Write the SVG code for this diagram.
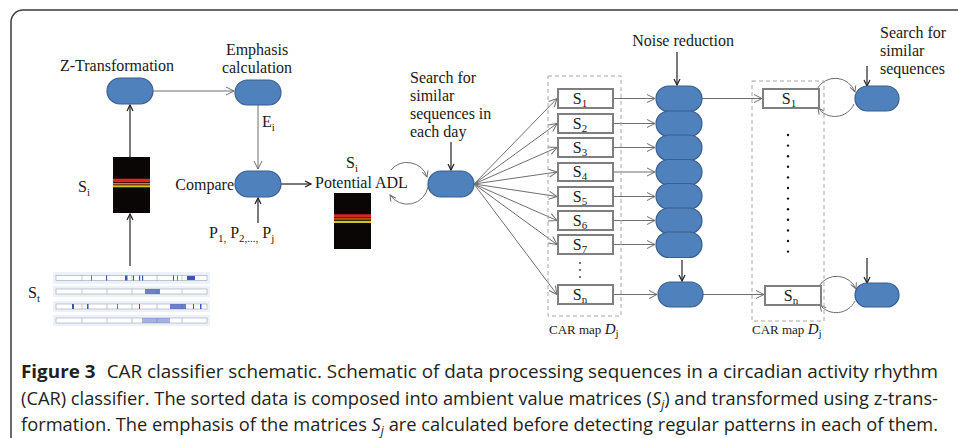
<svg xmlns="http://www.w3.org/2000/svg" width="958" height="438" viewBox="0 0 958 438">
<defs>
<style>
.t{font-family:"Liberation Serif","Times New Roman",serif;font-size:16px;fill:#1a1a1a}
.sub{font-size:11px}
.pill{fill:#4F81BD;stroke:#3A5F8F;stroke-width:1.2}
.box{fill:#fff;stroke:#7f7f7f;stroke-width:2}
.g{stroke:#6f6f6f;stroke-width:1;fill:none;marker-end:url(#ag)}
.k{stroke:#222;stroke-width:1.2;fill:none;marker-end:url(#ak)}
.lp{stroke:#6f6f6f;stroke-width:1;fill:none;marker-end:url(#al)}
.dash{fill:none;stroke:#a6a6a6;stroke-width:1;stroke-dasharray:4 3}
.cap{font-family:"Open Sans","Liberation Sans",sans-serif;font-size:18px;fill:#231f20}
.panel{fill:#edf1f9}
.bar{fill:#fff;stroke:#9aa3b5;stroke-width:0.6}
.tick{stroke:#9aa3b5;stroke-width:0.6}
.bl{fill:#3d55b8}
</style>
<marker id="ag" markerUnits="userSpaceOnUse" markerWidth="10" markerHeight="10" refX="9" refY="5" orient="auto"><path d="M1,1 L9,5 L1,9" fill="none" stroke="#6f6f6f" stroke-width="1"/></marker>
<marker id="ak" markerUnits="userSpaceOnUse" markerWidth="10" markerHeight="10" refX="9" refY="5" orient="auto"><path d="M3,2 L9,5 L3,8" fill="none" stroke="#222" stroke-width="1.2"/></marker>
<marker id="al" markerUnits="userSpaceOnUse" markerWidth="8" markerHeight="8" refX="7" refY="4" orient="auto"><path d="M1,1 L7,4 L1,7" fill="none" stroke="#6f6f6f" stroke-width="1"/></marker>
</defs>
<rect x="11" y="10" width="960" height="440" rx="12" fill="#fff" stroke="#3a3a3a" stroke-width="1.5"/>

<g id="connectors">
<line class="g" x1="153" y1="91" x2="234" y2="91"/>
<line class="g" x1="258" y1="105" x2="258" y2="169"/>
<line class="k" x1="130" y1="157" x2="130" y2="105"/>
<line class="k" x1="130" y1="266" x2="130" y2="214"/>
<line class="k" x1="281" y1="184" x2="311" y2="184"/>
<line class="k" x1="258" y1="223" x2="258" y2="198"/>
<line class="k" x1="451" y1="142" x2="451" y2="170"/>
<path class="lp" d="M391,170 A21 21 0 0 1 427,177"/>
<path class="lp" d="M428,187 A21 21 0 0 1 390,195"/>
<line class="g" x1="474" y1="184" x2="557" y2="98.5"/>
<line class="g" x1="474" y1="184" x2="557" y2="123.5"/>
<line class="g" x1="474" y1="184" x2="557" y2="147.5"/>
<line class="g" x1="474" y1="184" x2="557" y2="172"/>
<line class="g" x1="474" y1="184" x2="557" y2="196.5"/>
<line class="g" x1="474" y1="184" x2="557" y2="220.5"/>
<line class="g" x1="474" y1="184" x2="557" y2="244.5"/>
<line class="g" x1="474" y1="184" x2="557" y2="294.5"/>
<line class="g" x1="613" y1="98.5" x2="655" y2="98.5"/>
<line class="g" x1="613" y1="123.5" x2="655" y2="123.5"/>
<line class="g" x1="613" y1="147.5" x2="655" y2="147.5"/>
<line class="g" x1="613" y1="172" x2="655" y2="172"/>
<line class="g" x1="613" y1="196.5" x2="655" y2="196.5"/>
<line class="g" x1="613" y1="220.5" x2="655" y2="220.5"/>
<line class="g" x1="613" y1="244.5" x2="655" y2="244.5"/>
<line class="g" x1="613" y1="294.5" x2="657" y2="294.5"/>
<line class="k" x1="677" y1="52" x2="677" y2="85"/>
<line class="k" x1="682" y1="260" x2="682" y2="281"/>
<line class="g" x1="702" y1="98.5" x2="762" y2="98.5"/>
<line class="g" x1="703" y1="294.5" x2="764" y2="294.5"/>
<path class="lp" d="M817,89 A21 21 0 0 1 855,92"/>
<path class="lp" d="M854,104 A21 21 0 0 1 818,108"/>
<path class="lp" d="M819,286 A21 21 0 0 1 856,289"/>
<path class="lp" d="M855,301 A21 21 0 0 1 820,305"/>
<line class="k" x1="867" y1="66" x2="867" y2="86"/>
<line class="k" x1="867" y1="258" x2="867" y2="283"/>
</g>

<g id="z-transformation">
<rect class="pill" x="107" y="78" width="46" height="26" rx="13"/>
<text class="t" x="117" y="71" text-anchor="middle">Z-Transformation</text>
</g>
<g id="emphasis">
<rect class="pill" x="235" y="80" width="46" height="25" rx="12.5"/>
<text class="t" x="257" y="55" text-anchor="middle">Emphasis</text>
<text class="t" x="257" y="73" text-anchor="middle">calculation</text>
<text class="t" x="262" y="127">E<tspan class="sub" dy="4">i</tspan></text>
</g>
<g id="compare">
<rect class="pill" x="235" y="171" width="46" height="26" rx="13"/>
<text class="t" x="234" y="190" text-anchor="end">Compare</text>
<text class="t" x="209" y="238">P<tspan class="sub" dy="4">1,</tspan><tspan dy="-4"> P</tspan><tspan class="sub" dy="4">2,...,</tspan><tspan dy="-4"> P</tspan><tspan class="sub" dy="4">j</tspan></text>
</g>
<g id="si-matrix">
<rect x="113" y="157" width="37" height="56" fill="#0b0606"/>
<rect x="113" y="178.7" width="37" height="3.6" fill="#d8291f"/>
<rect x="113" y="183" width="37" height="1.5" fill="#e8761c"/>
<rect x="113" y="185.3" width="37" height="2" fill="#cfc52a"/>
<text class="t" x="78" y="192">S<tspan class="sub" dy="4">i</tspan></text>
</g>
<g id="st-data">
<text class="t" x="28" y="298">S<tspan class="sub" dy="4">t</tspan></text>
<rect class="panel" x="53" y="272" width="157" height="12"/>
<rect class="bar" x="56" y="275.5" width="151" height="5"/>
<rect class="panel" x="53" y="286" width="157" height="11"/>
<rect class="bar" x="56" y="289" width="151" height="5"/>
<rect class="panel" x="53" y="301" width="157" height="11"/>
<rect class="bar" x="56" y="304" width="151" height="5"/>
<rect class="panel" x="53" y="315" width="157" height="11"/>
<rect class="bar" x="56" y="318" width="151" height="5"/>
<g class="tick">
<line x1="82" y1="275" x2="82" y2="281"/><line x1="107" y1="275" x2="107" y2="281"/><line x1="132" y1="275" x2="132" y2="281"/><line x1="157" y1="275" x2="157" y2="281"/><line x1="182" y1="275" x2="182" y2="281"/>
<line x1="82" y1="289" x2="82" y2="294"/><line x1="107" y1="289" x2="107" y2="294"/><line x1="132" y1="289" x2="132" y2="294"/><line x1="157" y1="289" x2="157" y2="294"/><line x1="182" y1="289" x2="182" y2="294"/>
<line x1="82" y1="304" x2="82" y2="309"/><line x1="107" y1="304" x2="107" y2="309"/><line x1="132" y1="304" x2="132" y2="309"/><line x1="157" y1="304" x2="157" y2="309"/><line x1="182" y1="304" x2="182" y2="309"/>
<line x1="82" y1="318" x2="82" y2="323"/><line x1="107" y1="318" x2="107" y2="323"/><line x1="132" y1="318" x2="132" y2="323"/><line x1="157" y1="318" x2="157" y2="323"/><line x1="182" y1="318" x2="182" y2="323"/>
</g>
<g class="bl">
<rect x="91" y="275.5" width="0.8" height="5"/><rect x="106" y="275.5" width="1" height="5"/><rect x="125" y="275.5" width="2.5" height="5"/><rect x="133" y="275.5" width="1" height="5"/><rect x="139" y="275.5" width="1.2" height="5"/><rect x="142" y="275.5" width="1.2" height="5"/><rect x="173" y="275.5" width="1" height="5"/><rect x="177" y="275.5" width="0.8" height="5"/><rect x="187" y="276" width="8" height="4"/>
<rect x="145" y="289" width="15" height="5" opacity="0.75"/>
<rect x="72" y="304" width="2" height="5"/><rect x="87" y="304" width="1.5" height="5"/><rect x="117" y="304" width="0.8" height="5"/><rect x="139" y="304" width="1" height="5"/><rect x="170" y="304" width="16" height="5" opacity="0.75"/><rect x="193" y="304" width="1" height="5"/><rect x="200" y="304" width="1.5" height="5"/>
<rect x="142" y="318" width="28" height="5" opacity="0.45"/>
</g>
</g>
<g id="potential-adl">
<text class="t" x="352" y="168" text-anchor="middle">S<tspan class="sub" dy="4">i</tspan></text>
<text class="t" x="315" y="188">Potential ADL</text>
<rect x="334" y="193" width="37" height="56" fill="#0b0606"/>
<rect x="334" y="214.3" width="37" height="3.2" fill="#d8291f"/>
<rect x="334" y="218.3" width="37" height="1.3" fill="#e8761c"/>
<rect x="334" y="220.8" width="37" height="2.2" fill="#cfc52a"/>
</g>
<g id="search-daily">
<rect class="pill" x="428" y="171" width="46" height="26" rx="13"/>
<text class="t" x="410" y="83">Search for</text>
<text class="t" x="410" y="101">similar</text>
<text class="t" x="410" y="119">sequences in</text>
<text class="t" x="410" y="137">each day</text>
</g>
<g id="car-map-1">
<rect class="dash" x="548" y="76" width="73" height="240"/>
<rect class="box" x="558" y="89" width="55" height="19"/><text class="t" x="580" y="104" text-anchor="middle">S<tspan class="sub" dy="3">1</tspan></text>
<rect class="box" x="558" y="114" width="55" height="19"/><text class="t" x="580" y="129" text-anchor="middle">S<tspan class="sub" dy="3">2</tspan></text>
<rect class="box" x="558" y="138" width="55" height="19"/><text class="t" x="580" y="153" text-anchor="middle">S<tspan class="sub" dy="3">3</tspan></text>
<rect class="box" x="558" y="163" width="55" height="18"/><text class="t" x="580" y="177" text-anchor="middle">S<tspan class="sub" dy="3">4</tspan></text>
<rect class="box" x="558" y="187" width="55" height="19"/><text class="t" x="580" y="202" text-anchor="middle">S<tspan class="sub" dy="3">5</tspan></text>
<rect class="box" x="558" y="211" width="55" height="19"/><text class="t" x="580" y="226" text-anchor="middle">S<tspan class="sub" dy="3">6</tspan></text>
<rect class="box" x="558" y="235" width="55" height="19"/><text class="t" x="580" y="250" text-anchor="middle">S<tspan class="sub" dy="3">7</tspan></text>
<rect class="box" x="558" y="285" width="55" height="19"/><text class="t" x="580" y="300" text-anchor="middle">S<tspan class="sub" dy="3">n</tspan></text>
<circle cx="580" cy="263" r="0.9" fill="#333"/><circle cx="580" cy="270" r="0.9" fill="#333"/><circle cx="580" cy="277" r="0.9" fill="#333"/>
<text class="t" x="549" y="334" style="font-size:13px">CAR map <tspan style="font-style:italic;font-size:15px">D</tspan><tspan class="sub" dy="3">j</tspan></text>
</g>
<g id="noise-reduction">
<text class="t" x="683" y="46" text-anchor="middle">Noise reduction</text>
<rect class="pill" x="656" y="86" width="46" height="25.5" rx="12.7"/>
<rect class="pill" x="656" y="111" width="46" height="25.5" rx="12.7"/>
<rect class="pill" x="656" y="135" width="46" height="25.5" rx="12.7"/>
<rect class="pill" x="656" y="159.5" width="46" height="25.5" rx="12.7"/>
<rect class="pill" x="656" y="183.5" width="46" height="25.5" rx="12.7"/>
<rect class="pill" x="656" y="208" width="46" height="25.5" rx="12.7"/>
<rect class="pill" x="656" y="232" width="46" height="25.5" rx="12.7"/>
<rect class="pill" x="658" y="282" width="45" height="25" rx="12.5"/>
</g>
<g id="car-map-2">
<rect class="dash" x="752" y="81" width="72" height="240"/>
<rect class="box" x="763" y="89" width="56" height="19"/><text class="t" x="789" y="104" text-anchor="middle">S<tspan class="sub" dy="3">1</tspan></text>
<rect class="box" x="765" y="286" width="56" height="19"/><text class="t" x="791" y="301" text-anchor="middle">S<tspan class="sub" dy="3">n</tspan></text>
<g fill="#111">
<circle cx="788" cy="135" r="1.2"/><circle cx="788" cy="145.6" r="1.2"/><circle cx="788" cy="156.2" r="1.2"/><circle cx="788" cy="166.8" r="1.2"/><circle cx="788" cy="177.4" r="1.2"/><circle cx="788" cy="188" r="1.2"/><circle cx="788" cy="198.6" r="1.2"/><circle cx="788" cy="209.2" r="1.2"/><circle cx="788" cy="219.8" r="1.2"/><circle cx="788" cy="230.4" r="1.2"/><circle cx="788" cy="241" r="1.2"/><circle cx="788" cy="251.6" r="1.2"/>
</g>
<text class="t" x="752" y="334" style="font-size:13px">CAR map <tspan style="font-style:italic;font-size:15px">D</tspan><tspan class="sub" dy="3">j</tspan></text>
</g>
<g id="search-similar">
<text class="t" x="880" y="38">Search for</text>
<text class="t" x="880" y="56">similar</text>
<text class="t" x="880" y="74">sequences</text>
<rect class="pill" x="855" y="86" width="44" height="25" rx="12.5"/>
<rect class="pill" x="855" y="283" width="44" height="24" rx="12"/>
</g>

<g id="caption">
<text class="cap" x="21" y="378" textLength="917" lengthAdjust="spacingAndGlyphs"><tspan font-weight="bold">Figure 3</tspan><tspan dx="6"> CAR classifier schematic. Schematic of data processing sequences in a circadian activity rhythm</tspan></text>
<text class="cap" x="21" y="405" textLength="917" lengthAdjust="spacingAndGlyphs">(CAR) classifier. The sorted data is composed into ambient value matrices (<tspan font-style="italic">S</tspan><tspan font-style="italic" font-size="12" dy="4">j</tspan><tspan dy="-4">) and transformed using z-trans-</tspan></text>
<text class="cap" x="21" y="431" textLength="917" lengthAdjust="spacingAndGlyphs">formation. The emphasis of the matrices <tspan font-style="italic">S</tspan><tspan font-style="italic" font-size="12" dy="4">j</tspan><tspan dy="-4"> are calculated before detecting regular patterns in each of them.</tspan></text>
</g>
</svg>
